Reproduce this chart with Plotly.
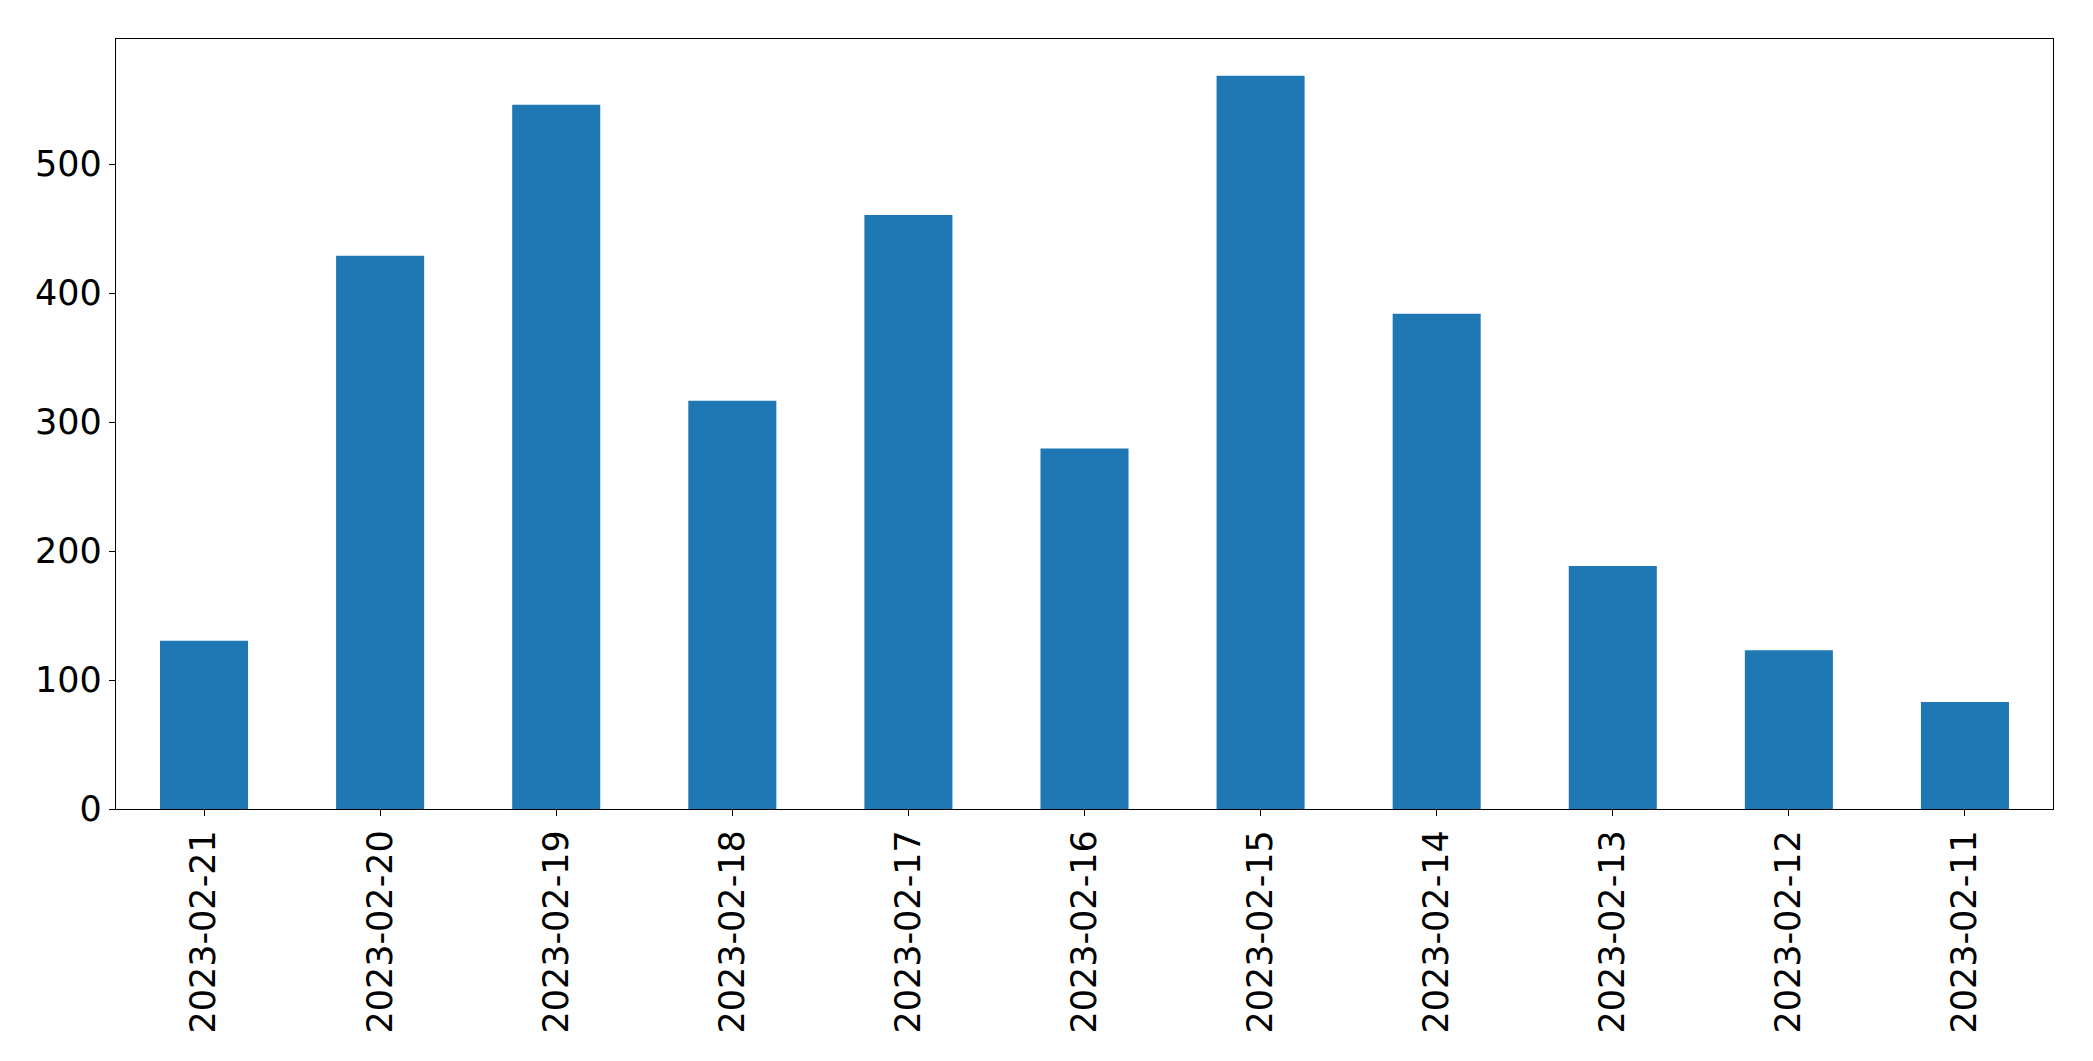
import plotly.graph_objects as go

dates = ["2023-02-21", "2023-02-20", "2023-02-19", "2023-02-18", "2023-02-17",
         "2023-02-16", "2023-02-15", "2023-02-14", "2023-02-13", "2023-02-12", "2023-02-11"]
counts = [130.5, 429, 546, 316.5, 460.5, 279.5, 568.6, 384, 188.5, 123, 83]
y_ticks = [0, 100, 200, 300, 400, 500]

fig = go.Figure(go.Bar(
    x=list(range(len(dates))), y=counts,
    width=0.5, marker=dict(color="#1f77b4", line=dict(width=0)),
))

font = dict(family="DejaVu Sans", size=35, color="black")
fig.update_layout(
    width=2093, height=1061,
    margin=dict(l=108, r=48, t=31, b=260),
    paper_bgcolor="white", plot_bgcolor="white",
    showlegend=False, font=font,
)
fig.update_xaxes(
    range=[-0.5, len(dates) - 0.5],
    tickmode="array", tickvals=list(range(len(dates))), ticktext=dates,
    tickangle=-90, ticks="outside", ticklen=6, tickwidth=1.4, tickcolor="black",
    showline=True, linecolor="black", linewidth=1.4, mirror=True,
    showgrid=False, zeroline=False, tickfont=font,
)
fig.update_yaxes(
    range=[0, 597],
    tickmode="array", tickvals=y_ticks, ticktext=[str(v) for v in y_ticks],
    ticks="outside", ticklen=6, tickwidth=1.4, tickcolor="black",
    showline=True, linecolor="black", linewidth=1.4, mirror=True,
    showgrid=False, zeroline=False, tickfont=font,
)
fig.write_html("out.html")
